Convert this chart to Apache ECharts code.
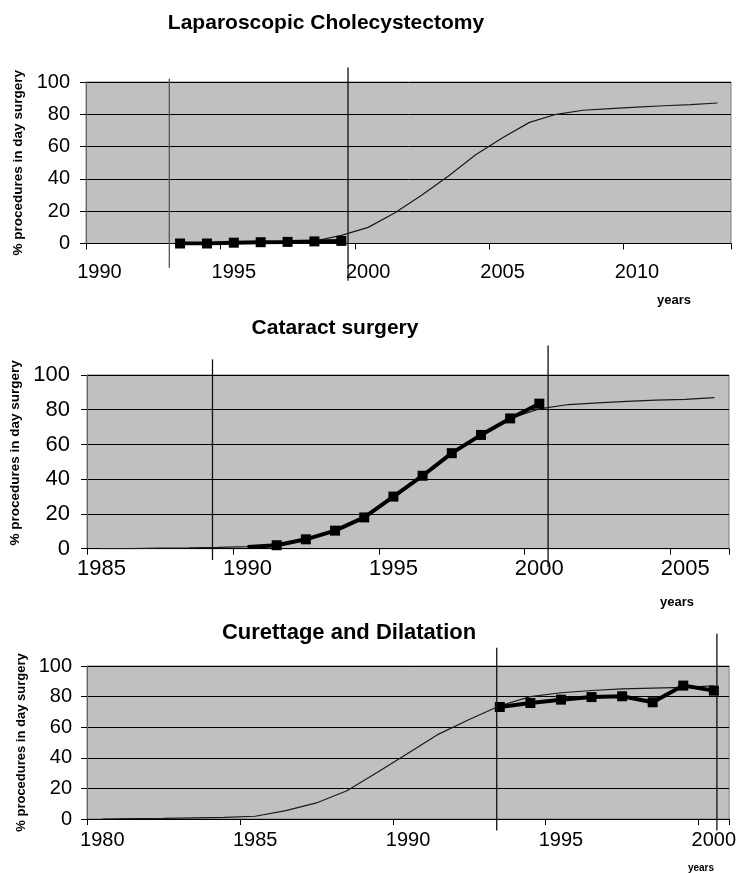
<!DOCTYPE html>
<html>
<head>
<meta charset="utf-8">
<title>Day surgery trends</title>
<script src="https://cdn.jsdelivr.net/npm/echarts@6/dist/echarts.min.js"></script>
<style>
  html, body { margin: 0; padding: 0; background: #fff; }
  #main { width: 739px; height: 873px; }
</style>
</head>
<body>
<div id="main"></div>
<script>
// --- Laparoscopic cholecystectomy ---
const lapYears = ['1990', '1991', '1992', '1993', '1994', '1995', '1996', '1997', '1998', '1999', '2000', '2001',
  '2002', '2003', '2004', '2005', '2006', '2007', '2008', '2009', '2010', '2011', '2012', '2013'];
const lapTrend = [null, null, null, 0, 0.2, 0.4, 0.6, 0.8, 1.5, 5, 10, 19,
  30, 42, 55, 65.5, 75, 80, 82.5, 83.5, 84.5, 85.3, 86, 87];
const lapActual = [null, null, null, 0, 0, 0.5, 0.8, 1, 1.3, 1.6, null, null,
  null, null, null, null, null, null, null, null, null, null, null, null];
const lapPeriod = [1992.6, 1999.25];

// --- Cataract surgery ---
const catYears = ['1985', '1986', '1987', '1988', '1989', '1990', '1991', '1992', '1993', '1994', '1995',
  '1996', '1997', '1998', '1999', '2000', '2001', '2002', '2003', '2004', '2005', '2006'];
const catTrend = [0, 0.1, 0.3, 0.5, 0.8, 1.2, 2, 5, 10, 18, 30,
  42, 55, 65, 75, 80.5, 83, 84, 84.8, 85.5, 86, 87];
const catActual = [null, null, null, null, null, 1, 2, 5.4, 10.4, 18, 30,
  42, 55, 65.5, 75, 83.5, null, null, null, null, null, null];
const catPeriod = [1988.8, 2000.3];

// --- Curettage and dilatation ---
const cdYears = ['1980', '1981', '1982', '1983', '1984', '1985', '1986', '1987', '1988', '1989', '1990',
  '1991', '1992', '1993', '1994', '1995', '1996', '1997', '1998', '1999', '2000'];
const cdTrend = [0, 0.2, 0.4, 0.7, 1, 1.8, 5.5, 10.5, 18.5, 30.5, 43,
  55.5, 65, 74, 80, 82.5, 84, 85, 85.5, 86, 87];
const cdActual = [null, null, null, null, null, null, null, null, null, null, null,
  null, null, 73.2, 75.8, 78, 79.7, 80.2, 76.3, 87.2, 83.9];
const cdPeriod = [1992.9, 2000.1];

const yTicks = [0, 20, 40, 60, 80, 100];

const FONT = '"Liberation Sans", Arial, sans-serif';
const yName = '% procedures in day surgery';

const panels = [
  { years: lapYears, trend: lapTrend, actual: lapActual, period: lapPeriod,
    grid: { left: 86, top: 82, width: 645, height: 161.5 },
    fs: 20, xMargin: 19, yMargin: 16, nameGap: 61, nameSize: 13.5, namePad: 0,
    spans: [[-15, 102], [-23, 109]], lineColors: ['#555', '#111'] },
  { years: catYears, trend: catTrend, actual: catActual, period: catPeriod,
    grid: { left: 87, top: 375, width: 642, height: 173.7 },
    fs: 22, xMargin: 9, yMargin: 17, nameGap: 64, nameSize: 13.5, namePad: 18,
    spans: [[-6.5, 109], [-10.5, 117]], lineColors: ['#111', '#111'] },
  { years: cdYears, trend: cdTrend, actual: cdActual, period: cdPeriod,
    grid: { left: 87, top: 666, width: 646, height: 153 },
    fs: 20, xMargin: 11, yMargin: 15, nameGap: 55, nameSize: 13, namePad: 0,
    spans: [[-7.5, 112], [-7.5, 121]], lineColors: ['#111', '#111'] }
];

const chart = echarts.init(document.getElementById('main'));

const option = {
  animation: false,
  backgroundColor: '#fff',
  grid: panels.map(p => Object.assign({
    show: true, backgroundColor: '#c0c0c0', borderColor: '#7f7f7f', borderWidth: 1
  }, p.grid)),
  xAxis: panels.map((p, i) => ({
    type: 'category',
    gridIndex: i,
    data: p.years,
    boundaryGap: true,
    axisLine: { lineStyle: { color: '#000', width: 1 } },
    axisTick: { show: true, interval: 4, length: 6, lineStyle: { color: '#000' } },
    axisLabel: { interval: 4, fontSize: p.fs, margin: p.xMargin, color: '#000', fontFamily: FONT },
    splitLine: { show: false }
  })),
  yAxis: panels.map((p, i) => ({
    type: 'value',
    gridIndex: i,
    min: yTicks[0],
    max: yTicks[yTicks.length - 1],
    interval: 20,
    name: yName,
    nameLocation: 'middle',
    nameGap: p.nameGap,
    nameTextStyle: { fontSize: p.nameSize, fontWeight: 'bold', color: '#000', fontFamily: FONT,
      padding: [0, 0, 0, p.namePad] },
    axisLine: { show: true, lineStyle: { color: '#666' } },
    axisTick: { show: true, length: 6, lineStyle: { color: '#000' } },
    axisLabel: { fontSize: p.fs, margin: p.yMargin, color: '#000', fontFamily: FONT },
    splitLine: { show: true, lineStyle: { color: '#000', width: 1 } }
  })),
  series: []
};

panels.forEach((p, i) => {
  option.series.push({
    type: 'line', xAxisIndex: i, yAxisIndex: i,
    data: p.trend,
    showSymbol: false, symbol: 'none',
    lineStyle: { color: '#1a1a1a', width: 1.2 },
    z: 3
  });
  option.series.push({
    type: 'line', xAxisIndex: i, yAxisIndex: i,
    data: p.actual.map((v, k) => (v != null && (k === 0 || p.actual[k - 1] == null) && i === 1)
      ? { value: v, symbol: 'none' } : v),
    symbol: 'rect', symbolSize: 10,
    itemStyle: { color: '#000' },
    lineStyle: { color: '#000', width: 4 },
    z: 4
  });
});

chart.setOption(option);

// period lines: vertical rules drawn through the axes, running past the plot
const graphics = [];
panels.forEach((p, i) => {
  const first = Number(p.years[0]);
  const x0 = chart.convertToPixel({ xAxisIndex: i }, 0);
  const x1 = chart.convertToPixel({ xAxisIndex: i }, 1);
  p.period.forEach((yr, j) => {
    const x = x0 + (x1 - x0) * (yr - first);
    graphics.push({
      type: 'line',
      shape: {
        x1: x, y1: chart.convertToPixel({ yAxisIndex: i }, p.spans[j][1]),
        x2: x, y2: chart.convertToPixel({ yAxisIndex: i }, p.spans[j][0])
      },
      style: { stroke: p.lineColors[j], lineWidth: 1.3 },
      z: 100
    });
  });
});

function label(text, x, y, font) {
  return {
    type: 'text', x: x, y: y, z: 100,
    style: { text: text, font: font, fill: '#000', textAlign: 'center', textVerticalAlign: 'middle',
      align: 'center', verticalAlign: 'middle' }
  };
}
graphics.push(label('Laparoscopic Cholecystectomy', 326, 23, 'bold 21px ' + FONT));
graphics.push(label('Cataract surgery', 335, 328, 'bold 21px ' + FONT));
graphics.push(label('Curettage and Dilatation', 349, 633, 'bold 22px ' + FONT));
graphics.push(label('years', 674, 300, 'bold 13px ' + FONT));
graphics.push(label('years', 677, 602, 'bold 13px ' + FONT));
graphics.push(label('years', 701, 868, 'bold 10px ' + FONT));

chart.setOption({ graphic: graphics });
window.onresize = chart.resize;
</script>
</body>
</html>
